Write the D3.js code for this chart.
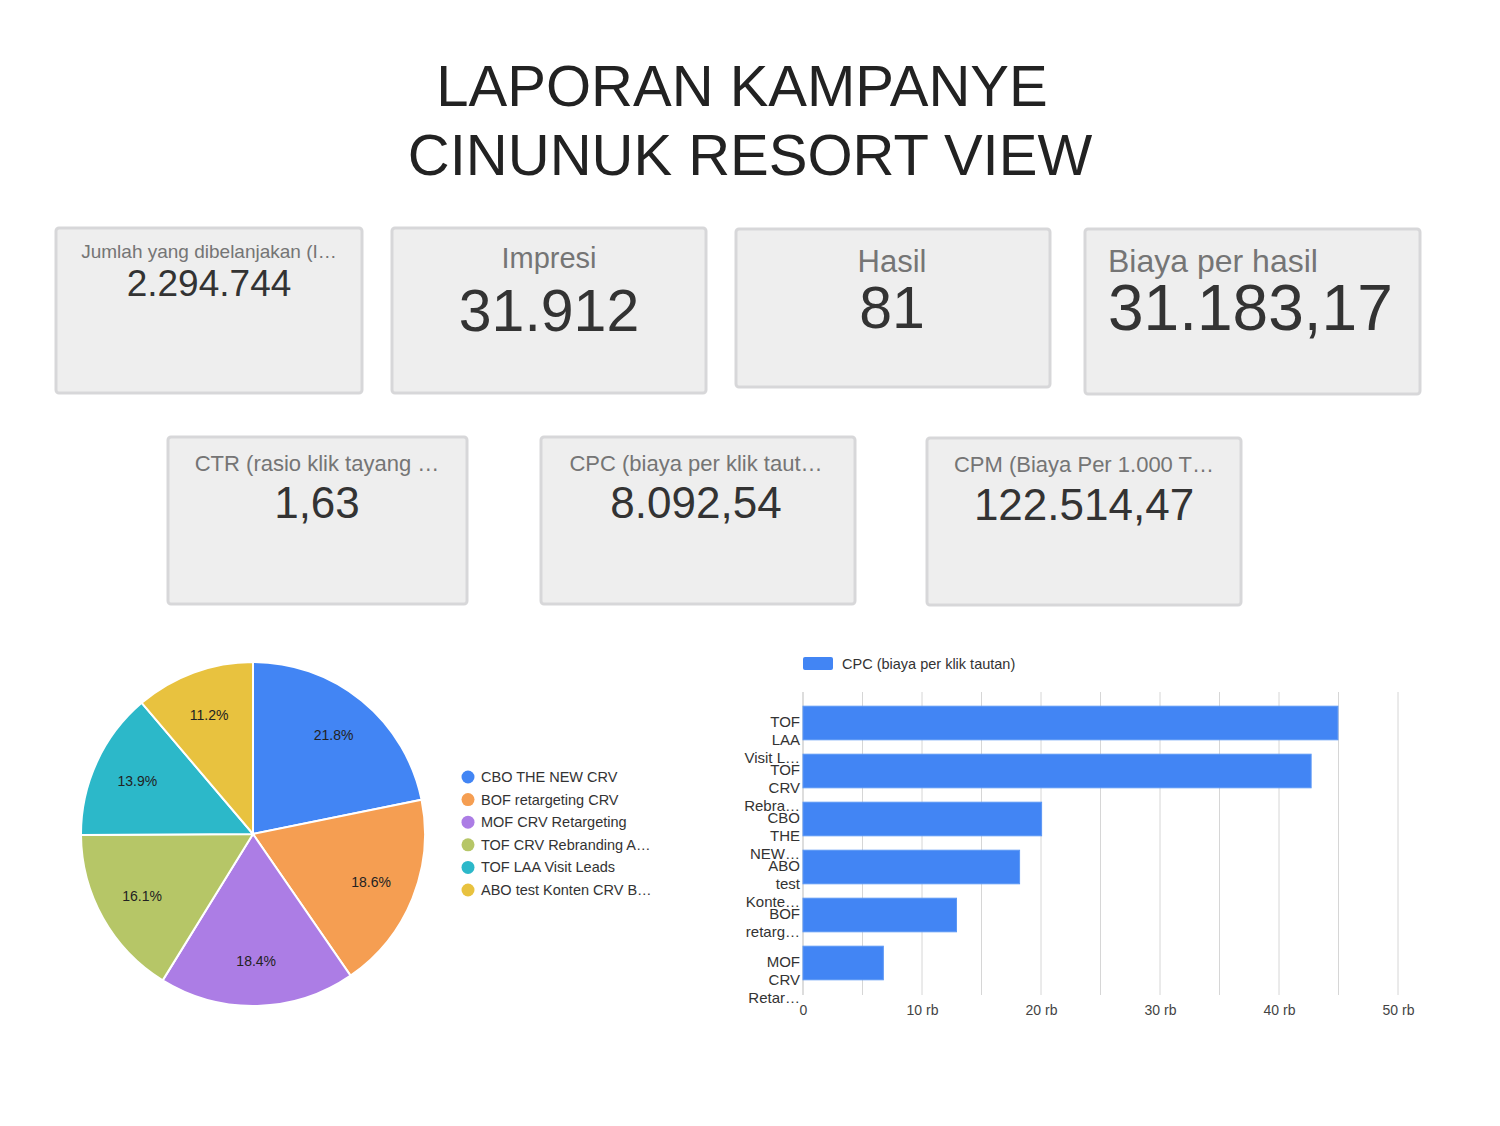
<!DOCTYPE html>
<html>
<head>
<meta charset="utf-8">
<script src="https://cdn.jsdelivr.net/npm/d3@7"></script>
<style>
  body { margin: 0; background: #fff; }
  svg { display: block; font-family: "Liberation Sans", Arial, sans-serif; }
</style>
</head>
<body>
<svg id="report"></svg>
<script>
const width = 1500, height = 1126;

// title
const titleLines = ["LAPORAN KAMPANYE", "CINUNUK RESORT VIEW"];

// scorecards
const cardLabels = ["Jumlah yang dibelanjakan (I…", "Impresi", "Hasil", "Biaya per hasil",
                    "CTR (rasio klik tayang …", "CPC (biaya per klik taut…", "CPM (Biaya Per 1.000 T…"];
const cardValues = ["2.294.744", "31.912", "81", "31.183,17", "1,63", "8.092,54", "122.514,47"];

// pie
const pieCategories = ["CBO THE NEW CRV", "BOF retargeting CRV", "MOF CRV Retargeting",
                       "TOF CRV Rebranding A…", "TOF LAA Visit Leads", "ABO test Konten CRV B…"];
const pieValues = [21.8, 18.6, 18.4, 16.1, 13.9, 11.2];
const pieColors = ["#4285f4", "#f59e52", "#ac7de5", "#b6c667", "#2cb8c9", "#e8c23f"];

// bar
const barSeries = "CPC (biaya per klik tautan)";
const barCategories = ["TOF LAA Visit Leads", "TOF CRV Rebranding A…", "CBO THE NEW CRV",
                       "ABO test Konten CRV B…", "BOF retargeting CRV", "MOF CRV Retargeting"];
const barTickLabels = [["TOF", "LAA", "Visit L…"], ["TOF", "CRV", "Rebra…"], ["CBO", "THE", "NEW…"],
                       ["ABO", "test", "Konte…"], ["BOF", "retarg…"], ["MOF", "CRV", "Retar…"]];
const barValues = [44950, 42700, 20050, 18200, 12900, 6750];
const barTicks = [0, 10000, 20000, 30000, 40000, 50000];

const svg = d3.select("#report")
    .attr("width", width)
    .attr("height", height)
    .attr("viewBox", `0 0 ${width} ${height}`);

svg.append("rect").attr("width", width).attr("height", height).attr("fill", "#fff");

// ---- title
svg.selectAll("text.title")
    .data(titleLines)
    .enter()
    .append("text")
    .attr("class", "title")
    .attr("x", (d, i) => i === 0 ? 742 : 750)
    .attr("y", (d, i) => 106 + i * 69)
    .attr("text-anchor", "middle")
    .attr("font-size", 58)
    .attr("fill", "#222")
    .text(d => d);

// ---- scorecards (layout only, text comes from the arrays above)
const cardBoxes = [
    {x: 56,   y: 228, w: 306, h: 165, ls: 19, lb: 258, vs: 37, vb: 296, tx: 209, anchor: "middle"},
    {x: 392,  y: 228, w: 314, h: 165, ls: 29, lb: 268, vs: 59, vb: 331, tx: 549, anchor: "middle"},
    {x: 736,  y: 229, w: 314, h: 158, ls: 31, lb: 272, vs: 59, vb: 328, tx: 892, anchor: "middle"},
    {x: 1085, y: 229, w: 335, h: 165, ls: 32, lb: 272, vs: 64, vb: 330, tx: 1108, anchor: "start"},
    {x: 168,  y: 437, w: 299, h: 167, ls: 22, lb: 471, vs: 44, vb: 518, tx: 317, anchor: "middle"},
    {x: 541,  y: 437, w: 314, h: 167, ls: 22, lb: 471, vs: 44, vb: 518, tx: 696, anchor: "middle"},
    {x: 927,  y: 438, w: 314, h: 167, ls: 22, lb: 472, vs: 44, vb: 520, tx: 1084, anchor: "middle"}
];

const cards = svg.selectAll("g.card")
    .data(cardBoxes)
    .enter()
    .append("g")
    .attr("class", "card");

cards.append("rect")
    .attr("x", d => d.x).attr("y", d => d.y)
    .attr("width", d => d.w).attr("height", d => d.h)
    .attr("rx", 3)
    .attr("fill", "#eeeeee")
    .attr("stroke", "#d7d7d9")
    .attr("stroke-width", 3);

cards.append("text")
    .attr("x", d => d.tx).attr("y", d => d.lb)
    .attr("text-anchor", d => d.anchor)
    .attr("font-size", d => d.ls)
    .attr("fill", "#757575")
    .text((d, i) => cardLabels[i]);

cards.append("text")
    .attr("x", d => d.tx).attr("y", d => d.vb)
    .attr("text-anchor", d => d.anchor)
    .attr("font-size", d => d.vs)
    .attr("fill", "#333")
    .text((d, i) => cardValues[i]);

// ---- pie
const radius = 172;
const pieG = svg.append("g").attr("transform", "translate(253,834)");
const pie = d3.pie().sort(null).value(d => d);
const arc = d3.arc().innerRadius(0).outerRadius(radius);
const labelArc = d3.arc().innerRadius(radius * 0.74).outerRadius(radius * 0.74);
const pieData = pie(pieValues);

pieG.selectAll("path")
    .data(pieData)
    .enter()
    .append("path")
    .attr("d", arc)
    .attr("fill", (d, i) => pieColors[i])
    .attr("stroke", "#fff")
    .attr("stroke-width", 2);

pieG.selectAll("text")
    .data(pieData)
    .enter()
    .append("text")
    .attr("transform", d => `translate(${labelArc.centroid(d)})`)
    .attr("text-anchor", "middle")
    .attr("dominant-baseline", "central")
    .attr("font-size", 14)
    .attr("fill", "#222")
    .text(d => d3.format(".1f")(d.value) + "%");

const legend = svg.append("g").attr("transform", "translate(468,777)");
const legendItems = legend.selectAll("g")
    .data(pieCategories)
    .enter()
    .append("g")
    .attr("transform", (d, i) => `translate(0,${i * 22.6})`);
legendItems.append("circle").attr("r", 6.5).attr("fill", (d, i) => pieColors[i]);
legendItems.append("text")
    .attr("x", 13)
    .attr("dominant-baseline", "central")
    .attr("font-size", 14.5)
    .attr("fill", "#333")
    .text(d => d);

// ---- bar chart
const x = d3.scaleLinear().domain([0, 50000]).range([803, 1398]);
const y = d3.scaleBand().domain(barCategories).range([699, 987]).paddingInner(0.3).paddingOuter(0.15);

svg.append("g")
    .selectAll("line")
    .data(d3.range(0, 50001, 5000))
    .enter()
    .append("line")
    .attr("x1", d => x(d)).attr("x2", d => x(d))
    .attr("y1", 692).attr("y2", 995)
    .attr("stroke", d => d === 0 ? "#bbb" : "#d6d6d6")
    .attr("stroke-width", 1);

svg.append("g")
    .selectAll("rect")
    .data(barValues)
    .enter()
    .append("rect")
    .attr("x", x(0))
    .attr("y", (d, i) => y(barCategories[i]))
    .attr("width", d => x(d) - x(0))
    .attr("height", y.bandwidth())
    .attr("fill", "#4285f4")
    .attr("stroke", "#5c98f5")
    .attr("stroke-width", 1);

const xAxis = d3.axisBottom(x)
    .tickValues(barTicks)
    .tickSize(0)
    .tickFormat(d => d === 0 ? "0" : (d / 1000) + " rb");
const xAxisG = svg.append("g").attr("transform", "translate(0,1002)").call(xAxis);
xAxisG.select(".domain").remove();
xAxisG.selectAll("text").attr("font-size", 14).attr("fill", "#444")
    .attr("font-family", "'Liberation Sans', Arial, sans-serif");

const yLabels = svg.append("g");
barCategories.forEach((c, i) => {
    const cy = y(c) + y.bandwidth() / 2 - 2;
    const t = yLabels.append("text")
        .attr("text-anchor", "end")
        .attr("font-size", 15)
        .attr("fill", "#333");
    barTickLabels[i].forEach((line, j) => {
        t.append("tspan")
            .attr("x", 800)
            .attr("y", cy + j * 18)
            .attr("dominant-baseline", "central")
            .text(line);
    });
});

const barLegend = svg.append("g").attr("transform", "translate(803,657)");
barLegend.append("rect").attr("width", 30).attr("height", 13).attr("rx", 2).attr("fill", "#4285f4");
barLegend.append("text")
    .attr("x", 39).attr("y", 7)
    .attr("dominant-baseline", "central")
    .attr("font-size", 14.5)
    .attr("fill", "#333")
    .text(barSeries);
</script>
</body>
</html>
